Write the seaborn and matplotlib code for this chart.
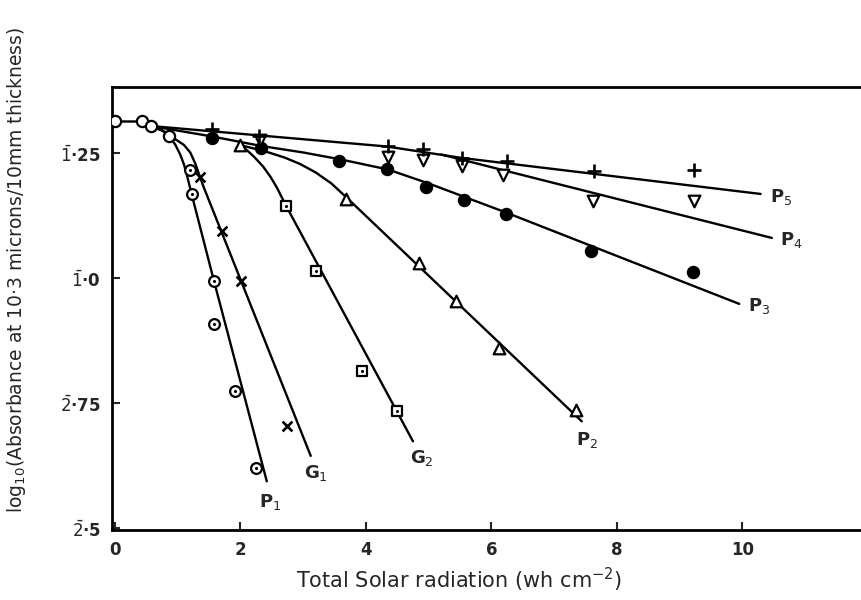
import numpy as np
import pandas as pd
import matplotlib
matplotlib.use("Agg")
import matplotlib.pyplot as plt
import seaborn as sns

# data points (x = total solar radiation, y = log10 absorbance as real number)
start_x = [0.0, 0.43, 0.57, 0.86]
start_y = [-0.686, -0.685, -0.695, -0.715]

p1_x = [1.19, 1.23, 1.58, 1.58, 1.91, 2.25]
p1_y = [-0.784, -0.832, -1.006, -1.091, -1.226, -1.379]

g1_x = [1.35, 1.70, 2.01, 2.75]
g1_y = [-0.797, -0.906, -1.005, -1.296]

g2_x = [2.72, 3.21, 3.94, 4.49]
g2_y = [-0.856, -0.986, -1.186, -1.266]

p2_x = [1.99, 3.69, 4.84, 5.43, 6.12, 7.35]
p2_y = [-0.733, -0.841, -0.969, -1.046, -1.139, -1.263]

p3_x = [1.55, 2.33, 3.57, 4.34, 4.95, 5.57, 6.23, 7.59, 9.22]
p3_y = [-0.719, -0.739, -0.766, -0.782, -0.817, -0.843, -0.871, -0.946, -0.988]

p4_x = [2.31, 4.35, 4.91, 5.53, 6.19, 7.62, 9.23]
p4_y = [-0.723, -0.757, -0.763, -0.775, -0.793, -0.846, -0.846]

p5_x = [1.54, 2.29, 4.35, 4.91, 5.53, 6.25, 7.63, 9.23]
p5_y = [-0.701, -0.716, -0.736, -0.741, -0.759, -0.766, -0.786, -0.784]

# hand drawn fitted curves (vertices)
c_p1_x = [0.0, 0.45, 0.6, 0.75, 0.86, 0.96, 1.04, 1.10, 1.15, 1.20, 1.25, 1.58, 2.42]
c_p1_y = [-0.686, -0.686, -0.695, -0.703, -0.715, -0.732, -0.752, -0.772, -0.795,
          -0.82, -0.845, -1.006, -1.406]
c_g1_x = [0.57, 0.8, 0.98, 1.10, 1.20, 1.28, 1.35, 1.41, 2.01, 3.12]
c_g1_y = [-0.695, -0.707, -0.723, -0.733, -0.748, -0.77, -0.795, -0.816, -1.005, -1.355]
c_g2_x = [1.99, 2.10, 2.22, 2.36, 2.48, 2.58, 2.72, 4.75]
c_g2_y = [-0.733, -0.743, -0.757, -0.776, -0.797, -0.818, -0.853, -1.326]
c_p2_x = [1.99, 2.4, 2.7, 2.95, 3.2, 3.45, 3.69, 7.44]
c_p2_y = [-0.733, -0.746, -0.758, -0.771, -0.788, -0.81, -0.838, -1.286]
c_p3_x = [0.57, 1.55, 2.33, 3.0, 3.6, 4.35, 5.0, 6.23, 9.95]
c_p3_y = [-0.695, -0.716, -0.735, -0.748, -0.762, -0.782, -0.81, -0.868, -1.051]
c_p4_x = [5.2, 6.93, 10.47]
c_p4_y = [-0.752, -0.807, -0.919]
c_p5_x = [0.57, 4.33, 5.53, 10.29]
c_p5_y = [-0.695, -0.736, -0.759, -0.831]

curve_labels = ["P$_1$", "G$_1$", "G$_2$", "P$_2$", "P$_3$", "P$_4$", "P$_5$"]
label_x = [2.47, 3.21, 4.89, 7.52, 10.26, 10.78, 10.62]
label_y = [-1.447, -1.389, -1.359, -1.323, -1.056, -0.923, -0.838]

x_ticks = [0, 2, 4, 6, 8, 10]
y_ticks = [-1.5, -1.25, -1.0, -0.75]
y_ticklabels = [r"$\bar{2}$·5", r"$\bar{2}$·75", r"$\bar{1}$·0", r"$\bar{1}$·25"]

sns.set_style("ticks")
plt.rcParams['font.family'] = ['DejaVu Sans']

fig = plt.figure(figsize=(8.61, 6), dpi=100)
ax = fig.add_axes([0.130, 0.117, 0.870, 0.738])

curves = [(c_p1_x, c_p1_y), (c_g1_x, c_g1_y), (c_g2_x, c_g2_y), (c_p2_x, c_p2_y),
          (c_p3_x, c_p3_y), (c_p4_x, c_p4_y), (c_p5_x, c_p5_y)]
for cx, cy in curves:
    sns.lineplot(x=cx, y=cy, sort=False, estimator=None, color="black",
                 linewidth=1.7, ax=ax)

def pts(xs, ys, marker, face, size, lw=1.6):
    sns.scatterplot(x=xs, y=ys, marker=marker, s=size, facecolor=face,
                    edgecolor="black", linewidth=lw, ax=ax, zorder=3)

pts(start_x, start_y, "o", "white", 65)
pts(p1_x, p1_y, "o", "white", 60)
sns.scatterplot(x=p1_x, y=p1_y, marker="o", s=5, color="black", linewidth=0, ax=ax, zorder=4)
sns.scatterplot(x=g1_x, y=g1_y, marker="x", s=50, color="black", linewidth=1.9, ax=ax, zorder=3)
pts(g2_x, g2_y, "s", "white", 60)
sns.scatterplot(x=g2_x, y=g2_y, marker="o", s=5, color="black", linewidth=0, ax=ax, zorder=4)
pts(p2_x, p2_y, "^", "white", 70)
pts(p3_x, p3_y, "o", "black", 65)
pts(p4_x, p4_y, "v", "white", 70)
sns.scatterplot(x=p5_x, y=p5_y, marker="+", s=100, color="black", linewidth=1.9, ax=ax, zorder=3)

for lab, lx, ly in zip(curve_labels, label_x, label_y):
    ax.text(lx, ly, lab, fontsize=13, fontweight="bold", ha="center", va="center")

ax.set_xlim(-0.048, 11.89)
ax.set_ylim(-1.503, -0.617)
ax.set_xticks(x_ticks)
ax.set_xticklabels([str(t) for t in x_ticks], fontsize=12, fontweight="bold")
ax.set_yticks(y_ticks)
ax.set_yticklabels(y_ticklabels, fontsize=12, fontweight="bold")
ax.tick_params(direction="in", length=6, width=1.5, pad=8)
for side in ["left", "bottom", "top"]:
    ax.spines[side].set_linewidth(2)
    ax.spines[side].set_color("black")
ax.spines["right"].set_visible(False)

fig.text(459 / 861, 1 - 580 / 600, "Total Solar radiation (wh cm$^{-2}$)",
         ha="center", va="center", fontsize=15)
fig.text(17 / 861, 1 - 270 / 600,
         "log$_{10}$(Absorbance at 10·3 microns/10mm thickness)",
         ha="center", va="center", rotation=90, fontsize=13.5)

fig.savefig("out.png", dpi=100)
